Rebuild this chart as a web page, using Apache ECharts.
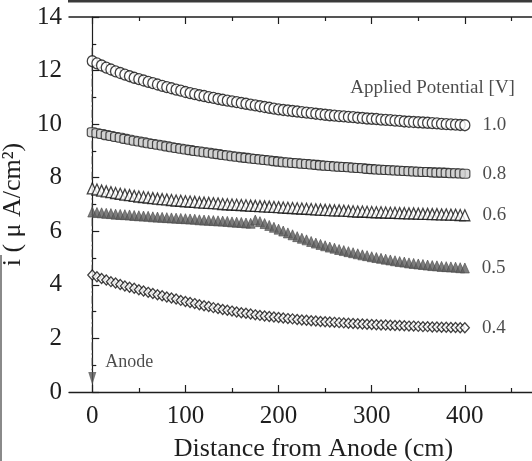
<!DOCTYPE html>
<html>
<head>
<meta charset="utf-8">
<script src="https://cdn.jsdelivr.net/npm/echarts@6/dist/echarts.min.js"></script>
<style>
  html, body { margin: 0; padding: 0; background: #fff; }
  #chart { width: 532px; height: 461px; }
</style>
</head>
<body>
<div id="chart"></div>
<script>
// Distance from the anode (cm) for every measurement point
const distance = [
  0, 5, 10, 15, 20, 25, 30, 35, 40, 45, 50, 55, 60, 65, 70, 75, 80, 85, 90, 95,
  100, 105, 110, 115, 120, 125, 130, 135, 140, 145, 150, 155, 160, 165, 170, 175, 180, 185, 190, 195,
  200, 205, 210, 215, 220, 225, 230, 235, 240, 245, 250, 255, 260, 265, 270, 275, 280, 285, 290, 295,
  300, 305, 310, 315, 320, 325, 330, 335, 340, 345, 350, 355, 360, 365, 370, 375, 380, 385, 390, 395, 400
];

// Current density i (uA/cm2) at each applied potential
const i_1_0 = [
  12.35, 12.27, 12.19, 12.11, 12.04, 11.97, 11.91, 11.85, 11.79, 11.73, 11.68,
  11.63, 11.58, 11.53, 11.48, 11.43, 11.38, 11.34, 11.29, 11.25, 11.20,
  11.16, 11.12, 11.08, 11.05, 11.01, 10.98, 10.94, 10.91, 10.88, 10.85,
  10.82, 10.79, 10.76, 10.73, 10.70, 10.67, 10.64, 10.61, 10.58, 10.55,
  10.53, 10.51, 10.49, 10.47, 10.45, 10.43, 10.41, 10.39, 10.37, 10.35,
  10.33, 10.32, 10.30, 10.29, 10.27, 10.26, 10.24, 10.23, 10.21, 10.20,
  10.19, 10.17, 10.16, 10.15, 10.13, 10.12, 10.10, 10.09, 10.08, 10.07,
  10.06, 10.05, 10.04, 10.03, 10.01, 10.00, 9.99, 9.98, 9.97, 9.96
];
const i_0_8 = [
  9.70, 9.66, 9.63, 9.59, 9.56, 9.52, 9.49, 9.45, 9.42, 9.38, 9.35,
  9.32, 9.29, 9.26, 9.23, 9.20, 9.17, 9.14, 9.11, 9.08, 9.05,
  9.03, 9.00, 8.98, 8.95, 8.93, 8.90, 8.88, 8.85, 8.83, 8.80,
  8.78, 8.76, 8.74, 8.72, 8.70, 8.68, 8.66, 8.64, 8.62, 8.60,
  8.58, 8.57, 8.55, 8.54, 8.52, 8.51, 8.49, 8.48, 8.46, 8.45,
  8.44, 8.42, 8.41, 8.40, 8.39, 8.37, 8.36, 8.35, 8.33, 8.32,
  8.31, 8.30, 8.29, 8.28, 8.27, 8.26, 8.25, 8.24, 8.23, 8.22,
  8.21, 8.21, 8.20, 8.19, 8.19, 8.18, 8.17, 8.17, 8.16, 8.15
];
const i_0_6 = [
  7.60, 7.56, 7.52, 7.49, 7.46, 7.43, 7.40, 7.37, 7.35, 7.32, 7.30,
  7.28, 7.26, 7.24, 7.22, 7.20, 7.19, 7.17, 7.15, 7.14, 7.12,
  7.11, 7.10, 7.08, 7.07, 7.06, 7.05, 7.04, 7.02, 7.01, 7.00,
  6.99, 6.98, 6.97, 6.96, 6.95, 6.94, 6.93, 6.92, 6.91, 6.90,
  6.89, 6.88, 6.87, 6.86, 6.85, 6.84, 6.83, 6.82, 6.81, 6.80,
  6.79, 6.78, 6.78, 6.77, 6.76, 6.75, 6.74, 6.74, 6.73, 6.72,
  6.71, 6.71, 6.70, 6.69, 6.69, 6.68, 6.68, 6.67, 6.67, 6.66,
  6.65, 6.65, 6.64, 6.64, 6.63, 6.63, 6.62, 6.62, 6.61, 6.60
];
const i_0_5 = [
  6.72, 6.70, 6.69, 6.67, 6.66, 6.64, 6.63, 6.62, 6.61, 6.59, 6.58,
  6.57, 6.56, 6.54, 6.53, 6.52, 6.51, 6.50, 6.49, 6.48, 6.47,
  6.46, 6.45, 6.43, 6.42, 6.41, 6.40, 6.39, 6.38, 6.37, 6.35,
  6.34, 6.33, 6.31, 6.30, 6.42, 6.36, 6.29, 6.22, 6.15, 6.08,
  6.01, 5.94, 5.87, 5.80, 5.74, 5.68, 5.62, 5.56, 5.51, 5.46,
  5.41, 5.37, 5.32, 5.28, 5.24, 5.20, 5.16, 5.12, 5.09, 5.05,
  5.02, 4.99, 4.96, 4.93, 4.90, 4.87, 4.85, 4.82, 4.80, 4.78,
  4.76, 4.74, 4.72, 4.71, 4.69, 4.68, 4.67, 4.66, 4.64, 4.63
];
const i_0_4 = [
  4.37, 4.30, 4.24, 4.18, 4.12, 4.07, 4.01, 3.96, 3.91, 3.87, 3.82,
  3.77, 3.72, 3.68, 3.63, 3.59, 3.55, 3.51, 3.47, 3.42, 3.38,
  3.34, 3.30, 3.26, 3.22, 3.19, 3.15, 3.12, 3.08, 3.05, 3.02,
  2.99, 2.96, 2.94, 2.91, 2.88, 2.86, 2.84, 2.82, 2.80, 2.78,
  2.76, 2.74, 2.73, 2.71, 2.69, 2.68, 2.66, 2.65, 2.63, 2.62,
  2.61, 2.60, 2.59, 2.58, 2.57, 2.56, 2.55, 2.54, 2.53, 2.52,
  2.51, 2.50, 2.50, 2.49, 2.48, 2.48, 2.47, 2.46, 2.46, 2.45,
  2.44, 2.44, 2.43, 2.43, 2.42, 2.42, 2.41, 2.41, 2.40, 2.40
];

const potentialLabels = ['1.0', '0.8', '0.6', '0.5', '0.4'];
const xMajorTicks = [0, 100, 200, 300, 400, 500];
const xMinorTicks = [50, 150, 250, 350, 450];
// anode guide: position (cm), top and bottom of the dash-dot line, arrow tip level
const anodeGuide = { x: 0, top: 12.85, bottom: 0.75, arrow: 0.5 };

const SERIF = '"Liberation Serif", "DejaVu Serif", serif';
const INK = '#1e1e1e';

function pairs(ys) {
  return distance.map((x, k) => [x, ys[k]]);
}

function curve(name, ys, symbol, size, itemStyle) {
  const data = pairs(ys);
  const last = data.length - 1;
  data[last] = {
    value: data[last],
    label: {
      show: true, position: 'right', distance: 12,
      formatter: name, fontFamily: SERIF, fontSize: 19, color: INK
    }
  };
  return {
    name: name, type: 'scatter', data: data,
    symbol: symbol, symbolSize: size, itemStyle: itemStyle,
    silent: true, z: 3
  };
}

const chart = echarts.init(document.getElementById('chart'), null, { renderer: 'canvas' });

const xCommon = { type: 'value', min: -25, max: 500, gridIndex: 0, splitLine: { show: false } };

chart.setOption({
  animation: false,
  backgroundColor: '#fff',
  grid: { left: 69, top: 17, right: -26, bottom: 69, containLabel: false, outerBoundsMode: 'none' },
  xAxis: [
    Object.assign({}, xCommon, {
      position: 'bottom',
      name: 'Distance from Anode (cm)', nameLocation: 'middle', nameGap: 44,
      nameTextStyle: { fontFamily: SERIF, fontSize: 26, color: INK },
      axisLine: { show: true, lineStyle: { color: INK, width: 1.3 } },
      axisTick: { show: true, inside: true, length: 7, customValues: xMajorTicks, lineStyle: { color: INK, width: 1.2 } },
      axisLabel: { show: true, customValues: [0, 100, 200, 300, 400], margin: 12, fontFamily: SERIF, fontSize: 25, color: INK }
    }),
    Object.assign({}, xCommon, {
      position: 'bottom',
      axisLine: { show: false },
      axisTick: { show: true, inside: true, length: 4, customValues: xMinorTicks, lineStyle: { color: INK, width: 1.2 } },
      axisLabel: { show: false }
    }),
    Object.assign({}, xCommon, {
      position: 'top',
      axisLine: { show: true, lineStyle: { color: INK, width: 1.5 } },
      axisTick: { show: true, inside: true, length: 7, customValues: xMajorTicks, lineStyle: { color: INK, width: 1.2 } },
      axisLabel: { show: false }
    }),
    Object.assign({}, xCommon, {
      position: 'top',
      axisLine: { show: false },
      axisTick: { show: true, inside: true, length: 4, customValues: xMinorTicks, lineStyle: { color: INK, width: 1.2 } },
      axisLabel: { show: false }
    })
  ],
  yAxis: {
    type: 'value', min: 0, max: 14, interval: 2,
    name: 'i ( \u03bc A/cm\u00b2)', nameLocation: 'middle', nameGap: 38,
    nameTextStyle: { fontFamily: SERIF, fontSize: 26, color: INK },
    axisLine: { show: true, lineStyle: { color: INK, width: 1.2 } },
    axisTick: { show: true, inside: true, length: 7, lineStyle: { color: INK, width: 1.2 } },
    minorTick: { show: true, splitNumber: 2, length: 4, lineStyle: { color: INK, width: 1.2 } },
    axisLabel: { margin: 7, fontFamily: SERIF, fontSize: 25, color: INK },
    splitLine: { show: false }
  },
  series: [
    // dash-dot guide line marking the anode position
    {
      type: 'custom', silent: true, z: 1,
      data: [[anodeGuide.x, anodeGuide.top, anodeGuide.bottom]],
      renderItem: function (params, api) {
        const p1 = api.coord([api.value(0), api.value(1)]);
        const p2 = api.coord([api.value(0), api.value(2)]);
        return {
          type: 'line',
          shape: { x1: p1[0], y1: p1[1], x2: p2[0], y2: p2[1] },
          style: { stroke: '#333', lineWidth: 1.2, lineDash: [8, 3, 1.5, 3], fill: null }
        };
      }
    },
    // arrow head pointing to the anode
    {
      type: 'scatter', data: [[anodeGuide.x, anodeGuide.arrow]], silent: true, z: 1,
      symbol: 'path://M0,0L10,0L5,18Z', symbolSize: [8, 13],
      itemStyle: { color: '#555' }
    },
    // annotation texts
    {
      type: 'scatter', silent: true, symbolSize: 0, z: 4,
      data: [
        { value: [14, 1.12], label: { show: true, position: 'right', distance: 0, formatter: 'Anode', fontFamily: SERIF, fontSize: 18, color: INK } },
        { value: [277, 11.34], label: { show: true, position: 'right', distance: 0, formatter: 'Applied Potential [V]', fontFamily: SERIF, fontSize: 19, color: INK } }
      ]
    },
    curve(potentialLabels[0], i_1_0, 'circle', [10, 11], { color: '#fff', borderColor: '#111', borderWidth: 1.3 }),
    curve(potentialLabels[1], i_0_8, 'roundRect', [10, 9], { color: '#cfcfcf', borderColor: '#222', borderWidth: 1.1 }),
    curve(potentialLabels[2], i_0_6, 'triangle', [10, 11], { color: '#fff', borderColor: '#111', borderWidth: 1.3 }),
    curve(potentialLabels[3], i_0_5, 'triangle', [9, 10], { color: '#5e5e5e', borderColor: '#4a4a4a', borderWidth: 0.8 }),
    curve(potentialLabels[4], i_0_4, 'diamond', [9, 10], { color: '#fff', borderColor: '#111', borderWidth: 1.3 })
  ],
  graphic: [
    { type: 'rect', shape: { x: 68, y: 0, width: 470, height: 2.5 }, style: { fill: '#3a3a3a' }, silent: true },
    { type: 'rect', shape: { x: 0, y: 255, width: 2, height: 206 }, style: { fill: '#8a8a8a' }, silent: true }
  ]
});
</script>
</body>
</html>
